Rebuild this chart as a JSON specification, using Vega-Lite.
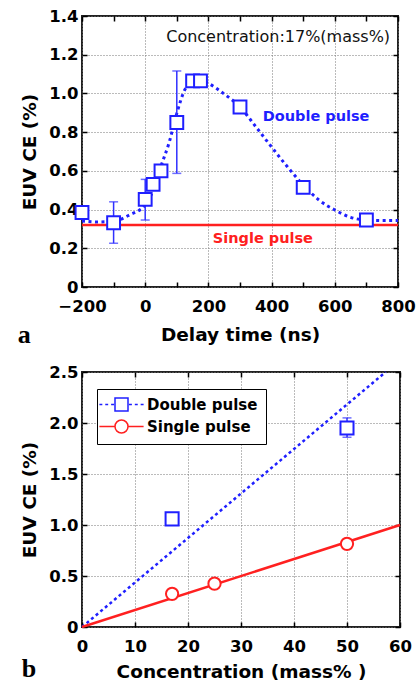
{
  "$schema": "https://vega.github.io/schema/vega-lite/v6.json",
  "padding": {"left": 16, "top": 7, "right": 2, "bottom": 0},
  "spacing": 14,
  "resolve": {"legend": {"shape": "independent", "stroke": "independent"}},
  "config": {
    "view": {"stroke": "#222", "strokeWidth": 2},
    "axis": {
      "labelFont": "DejaVu Sans", "labelFontWeight": "bold", "labelFontSize": 16.5, "labelColor": "black",
      "titleFont": "DejaVu Sans", "titleFontWeight": "bold", "titleFontSize": 18.5, "titleColor": "black",
      "domain": false, "tickColor": "black", "tickSize": -5, "tickWidth": 1.5,
      "gridColor": "#777", "gridDash": [1, 2], "gridWidth": 1,
      "labelPadding": 9, "labelFlush": false, "labelOverlap": false, "labelBound": false
    },
    "axisX": {"labelPadding": 16, "titlePadding": 11},
    "axisY": {"labelPadding": 9, "titlePadding": 9}
  },
  "datasets": {
    "a_points": [
      {"delay": -200, "ce": 0.385}, {"delay": -100, "ce": 0.332}, {"delay": 0, "ce": 0.453},
      {"delay": 25, "ce": 0.53}, {"delay": 50, "ce": 0.6}, {"delay": 100, "ce": 0.85},
      {"delay": 150, "ce": 1.065}, {"delay": 175, "ce": 1.065}, {"delay": 300, "ce": 0.93},
      {"delay": 500, "ce": 0.515}, {"delay": 700, "ce": 0.346}
    ],
    "a_err": [
      {"delay": -100, "lo": 0.226, "hi": 0.44},
      {"delay": 0, "lo": 0.346, "hi": 0.556},
      {"delay": 100, "lo": 0.587, "hi": 1.116}
    ],
    "a_fit": [
      {"delay": -200, "ce": 0.341}, {"delay": -150, "ce": 0.336}, {"delay": -100, "ce": 0.34},
      {"delay": -50, "ce": 0.372}, {"delay": 0, "ce": 0.424}, {"delay": 25, "ce": 0.5},
      {"delay": 50, "ce": 0.625}, {"delay": 75, "ce": 0.742}, {"delay": 100, "ce": 0.897},
      {"delay": 125, "ce": 1.018}, {"delay": 150, "ce": 1.062}, {"delay": 175, "ce": 1.07},
      {"delay": 200, "ce": 1.052}, {"delay": 250, "ce": 0.997}, {"delay": 300, "ce": 0.93},
      {"delay": 350, "ce": 0.828}, {"delay": 400, "ce": 0.723}, {"delay": 450, "ce": 0.621},
      {"delay": 500, "ce": 0.527}, {"delay": 550, "ce": 0.449}, {"delay": 600, "ce": 0.398},
      {"delay": 650, "ce": 0.36}, {"delay": 700, "ce": 0.346}, {"delay": 750, "ce": 0.343},
      {"delay": 800, "ce": 0.343}
    ],
    "b_points": [
      {"series": "Double pulse", "conc": 17, "ce": 1.06},
      {"series": "Double pulse", "conc": 50, "ce": 1.95},
      {"series": "Single pulse", "conc": 17, "ce": 0.325},
      {"series": "Single pulse", "conc": 25, "ce": 0.425},
      {"series": "Single pulse", "conc": 50, "ce": 0.815}
    ],
    "b_double": [{"conc": 17, "ce": 1.06}, {"conc": 50, "ce": 1.95}],
    "b_single": [{"conc": 17, "ce": 0.325}, {"conc": 25, "ce": 0.425}, {"conc": 50, "ce": 0.815}],
    "b_err": [{"conc": 50, "lo": 1.86, "hi": 2.05}],
    "b_fit_double": [{"conc": 0, "ce": 0}, {"conc": 57.3, "ce": 2.5}],
    "b_fit_single": [{"conc": 0, "ce": 0}, {"conc": 60, "ce": 1.0}]
  },
  "vconcat": [
    {
      "width": 316,
      "height": 271,
      "title": {"text": "a", "orient": "bottom", "anchor": "start", "frame": "bounds", "font": "Liberation Serif", "fontSize": 26, "fontWeight": "bold", "color": "black", "offset": -22, "dx": -3},
      "resolve": {"axis": {"x": "independent", "y": "independent"}},
      "layer": [
        {
          "data": {"name": "a_fit"},
          "mark": {"type": "line", "color": "#1f1fff", "strokeWidth": 3, "strokeDash": [3, 3.5], "interpolate": "monotone"},
          "encoding": {
            "x": {"field": "delay", "type": "quantitative",
              "scale": {"domain": [-200, 800], "nice": false, "zero": false},
              "axis": {"title": "Delay time (ns)", "values": [-200, -100, 0, 100, 200, 300, 400, 500, 600, 700, 800],
                "labelExpr": "datum.value % 200 === 0 ? datum.label : ''",
                "gridOpacity": {"condition": {"test": "datum.value % 200 === 0", "value": 1}, "value": 0}}},
            "y": {"field": "ce", "type": "quantitative",
              "scale": {"domain": [0, 1.4], "nice": false},
              "axis": {"title": "EUV CE (%)", "values": [0, 0.2, 0.4, 0.6, 0.8, 1.0, 1.2, 1.4],
                "labelExpr": "datum.value === 0 ? '0' : format(datum.value, '.1f')"}}
          }
        },
        {
          "data": {"values": [{}]},
          "mark": {"type": "rule", "color": "#ff2020", "strokeWidth": 2.5},
          "encoding": {
            "y": {"datum": 0.32, "type": "quantitative",
              "axis": {"orient": "right", "labels": false, "title": null, "grid": false, "values": [0, 0.2, 0.4, 0.6, 0.8, 1.0, 1.2, 1.4]}}
          }
        },
        {
          "data": {"name": "a_err"},
          "mark": {"type": "rule", "color": "#3030ff", "strokeWidth": 1.5},
          "encoding": {
            "x": {"field": "delay", "type": "quantitative",
              "axis": {"orient": "top", "labels": false, "title": null, "grid": false, "values": [-200, -100, 0, 100, 200, 300, 400, 500, 600, 700, 800]}},
            "y": {"field": "lo", "type": "quantitative", "axis": null},
            "y2": {"field": "hi"}
          }
        },
        {
          "data": {"name": "a_err"},
          "mark": {"type": "tick", "orient": "horizontal", "color": "#3030ff", "size": 9, "thickness": 1.5},
          "encoding": {"x": {"field": "delay", "type": "quantitative", "axis": null}, "y": {"field": "lo", "type": "quantitative", "axis": null}}
        },
        {
          "data": {"name": "a_err"},
          "mark": {"type": "tick", "orient": "horizontal", "color": "#3030ff", "size": 9, "thickness": 1.5},
          "encoding": {"x": {"field": "delay", "type": "quantitative", "axis": null}, "y": {"field": "hi", "type": "quantitative", "axis": null}}
        },
        {
          "data": {"name": "a_points"},
          "mark": {"type": "point", "shape": "square", "filled": false, "fill": "white", "fillOpacity": 1, "opacity": 1, "stroke": "#1f1fff", "strokeWidth": 2, "size": 165},
          "encoding": {"x": {"field": "delay", "type": "quantitative", "axis": null}, "y": {"field": "ce", "type": "quantitative", "axis": null}}
        },
        {
          "data": {"values": [{}]},
          "mark": {"type": "text", "font": "DejaVu Sans", "fontSize": 16, "align": "right", "baseline": "middle", "color": "#111"},
          "encoding": {"x": {"datum": 775, "type": "quantitative", "axis": null}, "y": {"datum": 1.29, "type": "quantitative", "axis": null}, "text": {"value": "Concentration:17%(mass%)"}}
        },
        {
          "data": {"values": [{}]},
          "mark": {"type": "text", "font": "DejaVu Sans", "fontWeight": "bold", "fontSize": 14.5, "align": "left", "baseline": "middle", "color": "#1f1fff"},
          "encoding": {"x": {"datum": 372, "type": "quantitative", "axis": null}, "y": {"datum": 0.88, "type": "quantitative", "axis": null}, "text": {"value": "Double pulse"}}
        },
        {
          "data": {"values": [{}]},
          "mark": {"type": "text", "font": "DejaVu Sans", "fontWeight": "bold", "fontSize": 14.5, "align": "left", "baseline": "middle", "color": "#ff2020"},
          "encoding": {"x": {"datum": 214, "type": "quantitative", "axis": null}, "y": {"datum": 0.246, "type": "quantitative", "axis": null}, "text": {"value": "Single pulse"}}
        }
      ]
    },
    {
      "width": 318,
      "height": 255,
      "title": {"text": "b", "orient": "bottom", "anchor": "start", "frame": "bounds", "font": "Liberation Serif", "fontSize": 26, "fontWeight": "bold", "color": "black", "offset": -25, "dx": 1},
      "resolve": {"axis": {"x": "independent", "y": "independent"}},
      "layer": [
        {
          "data": {"name": "b_fit_double"},
          "mark": {"type": "line", "color": "#1f1fff", "strokeWidth": 2.5, "strokeDash": [3, 3]},
          "encoding": {
            "x": {"field": "conc", "type": "quantitative",
              "scale": {"domain": [0, 60], "nice": false},
              "axis": {"title": "Concentration (mass% )", "titlePadding": 8, "values": [0, 10, 20, 30, 40, 50, 60]}},
            "y": {"field": "ce", "type": "quantitative",
              "scale": {"domain": [0, 2.5], "nice": false},
              "axis": {"title": "EUV CE (%)", "values": [0, 0.5, 1.0, 1.5, 2.0, 2.5],
                "labelExpr": "datum.value === 0 ? '0' : format(datum.value, '.1f')"}}
          }
        },
        {
          "data": {"name": "b_fit_single"},
          "mark": {"type": "line", "color": "#ff2020", "strokeWidth": 2.5},
          "encoding": {
            "x": {"field": "conc", "type": "quantitative",
              "axis": {"orient": "top", "labels": false, "title": null, "grid": false, "values": [0, 10, 20, 30, 40, 50, 60]}},
            "y": {"field": "ce", "type": "quantitative",
              "axis": {"orient": "right", "labels": false, "title": null, "grid": false, "values": [0, 0.5, 1.0, 1.5, 2.0, 2.5]}}
          }
        },
        {
          "data": {"name": "b_err"},
          "mark": {"type": "rule", "color": "#3030ff", "strokeWidth": 1.5},
          "encoding": {"x": {"field": "conc", "type": "quantitative", "axis": null}, "y": {"field": "lo", "type": "quantitative", "axis": null}, "y2": {"field": "hi"}}
        },
        {
          "data": {"name": "b_err"},
          "mark": {"type": "tick", "orient": "horizontal", "color": "#3030ff", "size": 9, "thickness": 1.5},
          "encoding": {"x": {"field": "conc", "type": "quantitative", "axis": null}, "y": {"field": "lo", "type": "quantitative", "axis": null}}
        },
        {
          "data": {"name": "b_err"},
          "mark": {"type": "tick", "orient": "horizontal", "color": "#3030ff", "size": 9, "thickness": 1.5},
          "encoding": {"x": {"field": "conc", "type": "quantitative", "axis": null}, "y": {"field": "hi", "type": "quantitative", "axis": null}}
        },
        {
          "data": {"name": "b_double"},
          "mark": {"type": "point", "shape": "square", "filled": false, "fill": "white", "fillOpacity": 1, "opacity": 1, "stroke": "#1f1fff", "strokeWidth": 2, "size": 170},
          "encoding": {"x": {"field": "conc", "type": "quantitative", "axis": null}, "y": {"field": "ce", "type": "quantitative", "axis": null}}
        },
        {
          "data": {"name": "b_single"},
          "mark": {"type": "point", "shape": "circle", "filled": false, "fill": "white", "fillOpacity": 1, "opacity": 1, "stroke": "#ff2020", "strokeWidth": 2, "size": 150},
          "encoding": {"x": {"field": "conc", "type": "quantitative", "axis": null}, "y": {"field": "ce", "type": "quantitative", "axis": null}}
        },
        {
          "data": {"name": "b_points"},
          "mark": {"type": "point", "filled": false, "opacity": 0, "strokeWidth": 2},
          "encoding": {
            "x": {"field": "conc", "type": "quantitative", "axis": null},
            "y": {"field": "ce", "type": "quantitative", "axis": null},
            "shape": {"field": "series", "type": "nominal",
              "scale": {"domain": ["Double pulse", "Single pulse"],
                "range": ["M-3.4,0H-2.95M-2.5,0H-2.05M-1.6,0H-1.15M1.15,0H1.6M2.05,0H2.5M2.95,0H3.4M-1,-1H1V1H-1Z", "M-3.4,0H-1M1,0H3.4M-1,0A1,1 0 1,1 1,0A1,1 0 1,1 -1,0Z"]},
              "legend": {
                "title": null, "orient": "none", "legendX": 15, "legendY": 17,
                "strokeColor": "black", "fillColor": "white", "padding": 8,
                "labelFont": "DejaVu Sans", "labelFontWeight": "bold", "labelFontSize": 15, "labelColor": "black", "labelLimit": 300,
                "symbolSize": 169, "symbolOffset": 9, "labelOffset": 18, "rowPadding": 3,
                "encode": {
                  "legend": {"strokeWidth": {"value": 1.5}},
                  "symbols": {
                    "fill": {"value": "white"}, "fillOpacity": {"value": 1}, "strokeOpacity": {"value": 1}, "opacity": {"value": 1},
                    "strokeWidth": {"value": 2}
                  }
                }
              }},
            "stroke": {"field": "series", "type": "nominal",
              "scale": {"domain": ["Double pulse", "Single pulse"], "range": ["#1f1fff", "#ff2020"]}}
          }
        }
      ]
    }
  ]
}
